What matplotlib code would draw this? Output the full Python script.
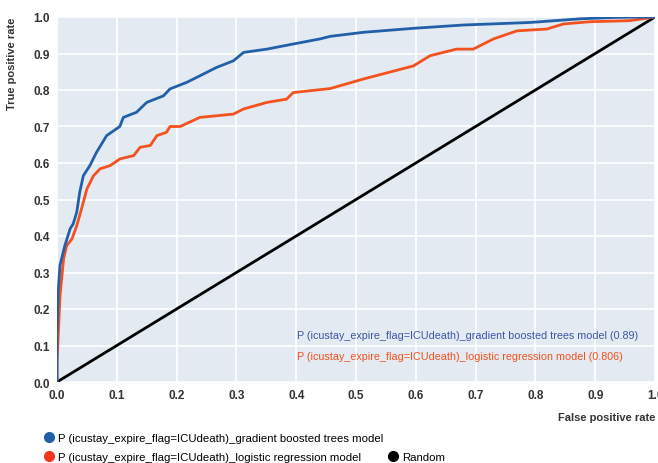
import numpy as np
import matplotlib.pyplot as plt
from matplotlib.lines import Line2D

plt.rcParams['font.family'] = ['Liberation Sans', 'DejaVu Sans']

# ROC noktalari
gbt_fpr = [0.0, 0.0, 0.002, 0.005, 0.013, 0.022, 0.027, 0.033, 0.038, 0.044, 0.055,
           0.066, 0.083, 0.105, 0.111, 0.133, 0.15, 0.178, 0.189, 0.217, 0.239,
           0.267, 0.295, 0.312, 0.351, 0.395, 0.44, 0.457, 0.512, 0.596, 0.679,
           0.791, 0.875, 0.936, 1.0]
gbt_tpr = [0.0, 0.13, 0.247, 0.32, 0.373, 0.42, 0.433, 0.465, 0.52, 0.565, 0.593,
           0.629, 0.675, 0.70, 0.725, 0.739, 0.766, 0.784, 0.803, 0.821, 0.839,
           0.862, 0.88, 0.903, 0.912, 0.926, 0.94, 0.947, 0.958, 0.969, 0.978,
           0.985, 0.995, 0.999, 1.0]

lr_fpr = [0.0, 0.0, 0.002, 0.005, 0.011, 0.016, 0.025, 0.033, 0.041, 0.05, 0.061,
          0.072, 0.089, 0.105, 0.122, 0.128, 0.139, 0.156, 0.167, 0.183, 0.189,
          0.206, 0.239, 0.295, 0.312, 0.351, 0.384, 0.395, 0.457, 0.512, 0.596,
          0.624, 0.668, 0.696, 0.73, 0.769, 0.819, 0.847, 0.891, 0.958, 1.0]
lr_tpr = [0.0, 0.05, 0.127, 0.236, 0.337, 0.373, 0.392, 0.428, 0.474, 0.529, 0.565,
          0.584, 0.593, 0.611, 0.618, 0.62, 0.643, 0.648, 0.675, 0.684, 0.70,
          0.70, 0.725, 0.734, 0.748, 0.766, 0.775, 0.793, 0.804, 0.83, 0.866,
          0.894, 0.912, 0.912, 0.94, 0.962, 0.967, 0.981, 0.987, 0.99, 1.0]

random_x = [0.0, 1.0]
random_y = [0.0, 1.0]

gbt_label = "P (icustay_expire_flag=ICUdeath)_gradient boosted trees model"
lr_label = "P (icustay_expire_flag=ICUdeath)_logistic regression model"
gbt_auc = 0.89
lr_auc = 0.806
ticks = np.arange(0, 1.01, 0.1)

blue = '#2160a9'
orange = '#f4511e'

fig = plt.figure(figsize=(6.58, 4.64), dpi=100)
ax = fig.add_axes([57 / 658, 1 - 383 / 464, 598 / 658, 365 / 464])
ax.set_facecolor('#e3eaf2')

ax.plot(random_x, random_y, color='black', lw=2, zorder=2)
ax.plot(lr_fpr, lr_tpr, color=orange, lw=2, zorder=3)
ax.plot(gbt_fpr, gbt_tpr, color=blue, lw=2, zorder=4)

ax.set_xlim(0, 1)
ax.set_ylim(0, 1)
ax.set_xticks(ticks)
ax.set_yticks(ticks)
ax.set_xticklabels([f"{t:.1f}" for t in ticks])
ax.set_yticklabels([f"{t:.1f}" for t in ticks])
ax.grid(True, color='white', lw=1.2)
ax.set_axisbelow(True)
for s in ax.spines.values():
    s.set_visible(False)
ax.tick_params(length=0, labelsize=8.5, colors='#333333', pad=5)
for lab in ax.get_xticklabels() + ax.get_yticklabels():
    lab.set_fontweight('bold')

fig.text(12 / 658, 1 - 18 / 464, "True positive rate", rotation=90, ha='center', va='top',
         fontsize=8, fontweight='bold', color='#333333')
fig.text(655 / 658, 1 - 418 / 464, "False positive rate", ha='right', va='center',
         fontsize=8, fontweight='bold', color='#333333')

ax.text(0.402, 0.13, f"{gbt_label} ({gbt_auc})", color='#3c55a5', fontsize=7.75,
        transform=ax.transAxes, va='center')
ax.text(0.402, 0.07, f"{lr_label} ({lr_auc})", color=orange, fontsize=7.75,
        transform=ax.transAxes, va='center')

handles = [
    Line2D([], [], ls='', marker='o', color=blue, markersize=7),
    Line2D([], [], ls='', marker='o', color='#f4361e', markersize=7),
    Line2D([], [], ls='', marker=''),
    Line2D([], [], ls='', marker='o', color='black', markersize=7),
]
labels = [gbt_label, lr_label, '', 'Random']
fig.legend(handles, labels, ncol=2, loc='upper left', bbox_to_anchor=(38 / 658, 1 - 428 / 464),
           frameon=False, fontsize=8.2, handletextpad=0.3, handlelength=1.0,
           labelspacing=0.85, columnspacing=0.3, borderpad=0)

fig.savefig('out.png', dpi=100)
